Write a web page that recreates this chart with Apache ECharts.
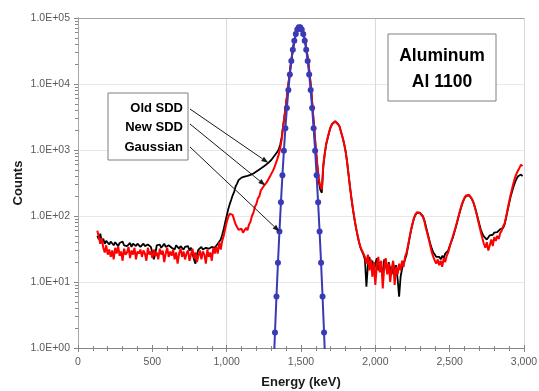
<!DOCTYPE html>
<html>
<head>
<meta charset="utf-8">
<script src="https://cdn.jsdelivr.net/npm/echarts@6/dist/echarts.min.js"></script>
<style>
  html, body { margin: 0; padding: 0; background: #ffffff; }
  #chart { width: 539px; height: 391px; }
</style>
</head>
<body>
<div id="chart"></div>
<script>
// Spectrum channels are 10 keV wide; the first one sits at 130 keV
const channelStart = 130;
const channelWidth = 10;

// Old SDD counts per channel
const oldSdd = [
  50, 44, 54, 41, 45, 38, 42, 40, 37, 41,
  39, 36, 40, 38, 35, 39, 37, 41, 36, 38,
  35, 37, 39, 34, 38, 36, 35, 38, 37, 34,
  36, 38, 35, 33, 37, 36, 34, 28, 22, 27,
  36, 34, 37, 33, 35, 38, 34, 32, 36, 35,
  33, 35, 31, 36, 34, 32, 35, 33, 31, 34,
  32, 35, 30, 33, 27, 22, 19, 26, 31, 33,
  34, 31, 29, 33, 35, 32, 30, 34, 36, 33,
  35, 38, 40, 44, 52, 63, 80, 100, 125, 150,
  175, 205, 230, 280, 310, 350, 360, 382, 378, 395,
  390, 405, 398, 420, 418, 440, 448, 472, 480, 505,
  515, 545, 550, 585, 598, 640, 660, 705, 740, 810,
  860, 930, 1020, 1200, 1550, 2300, 3400, 5100, 7900, 12300,
  18800, 27500, 38500, 50000, 61000, 68500, 72000, 70500, 64000, 54000,
  42000, 30500, 20500, 13000, 7400, 3800, 1900, 1000, 560, 330,
  250, 225, 560, 880, 1230, 1530, 1880, 2230, 2480, 2640,
  2700, 2620, 2450, 2240, 1850, 1540, 1240, 950, 660, 420,
  270, 178, 124, 88, 66, 51, 40, 33, 29, 26,
  22, 8.5, 18, 24, 16, 21, 14, 19, 23, 15,
  20, 17, 12, 22, 18, 14, 20, 16, 13, 19,
  15, 18, 11, 6, 12, 16, 19, 22, 26, 34,
  46, 60, 75, 92, 104, 112, 115, 112, 107, 100,
  86, 70, 57, 46, 38, 32, 28, 26, 24, 23,
  24, 22, 25, 23, 27, 26, 30, 35, 40, 46,
  55, 66, 80, 98, 118, 142, 165, 185, 200, 210,
  206, 196, 180, 160, 136, 112, 92, 75, 62, 54,
  49, 46, 44, 47, 51, 54, 52, 56, 58, 57,
  61, 63, 62, 66, 75, 95, 122, 155, 195, 235,
  280, 325, 365, 400, 420, 425, 400
];

// New SDD counts per channel
const newSdd = [
  60, 48, 38, 46, 33, 28, 36, 26, 31, 24,
  30, 22, 33, 27, 35, 25, 29, 21, 32, 26,
  28, 34, 23, 30, 26, 33, 22, 29, 27, 31,
  24, 30, 27, 21, 33, 26, 29, 23, 31, 25,
  28, 22, 32, 26, 30, 20, 27, 33, 24, 29,
  25, 31, 22, 28, 19, 27, 32, 24, 29, 22,
  27, 30, 21, 26, 32, 23, 28, 20, 25, 30,
  22, 29, 26, 19, 31, 24, 28, 21, 33, 27,
  34, 27, 40, 31, 42, 50, 64, 80, 96, 108,
  112, 104, 88, 75, 68, 62, 58, 64, 56, 60,
  66, 61, 74, 82, 100, 112, 138, 152, 185, 200,
  245, 255, 285, 290, 325, 345, 392, 415, 478, 535,
  620, 720, 850, 1050, 1450, 2300, 3400, 5100, 7900, 12300,
  18800, 27500, 38500, 50000, 61000, 68500, 72000, 70500, 64000, 54000,
  42000, 30500, 20500, 13000, 7400, 3800, 1950, 1050, 600, 360,
  285, 250, 600, 900, 1250, 1550, 1900, 2250, 2500, 2650,
  2720, 2640, 2460, 2250, 1860, 1550, 1250, 960, 660, 425,
  272, 180, 125, 90, 67, 52, 41, 34, 30, 27,
  24, 19, 26, 15, 22, 12, 20, 9, 18, 24,
  14, 21, 8, 17, 23, 13, 19, 10, 16, 21,
  9, 17, 13, 19, 15, 21, 17, 24, 28, 36,
  47, 62, 77, 94, 106, 114, 116, 110, 104, 97,
  83, 66, 54, 44, 35, 28, 24, 21, 19, 22,
  18, 21, 17, 23, 20, 25, 28, 34, 41, 48,
  57, 68, 82, 100, 122, 146, 168, 190, 205, 215,
  210, 198, 182, 160, 134, 110, 88, 70, 56, 46,
  38, 33, 40, 30, 36, 44, 35, 48, 42, 50,
  45, 55, 60, 70, 78, 98, 128, 165, 210, 260,
  320, 385, 440, 490, 540, 600, 570
];

// Gaussian reference peak (energy in keV, counts)
const gaussEnergy = [
  1315, 1325, 1335, 1345, 1355, 1365, 1375, 1385, 1395, 1405, 1415, 1425,
  1435, 1445, 1455, 1465, 1475, 1485, 1495, 1505, 1515, 1525, 1535, 1545,
  1555, 1565, 1575, 1585, 1595, 1605, 1615, 1625, 1635, 1645, 1655, 1665
];
const gaussCounts = [
  0.455, 1.72, 6.02, 19.5, 58.3, 161, 413, 977, 2140, 4320, 8090, 13990,
  22370, 33100, 45260, 57250, 66950, 72400, 72400, 66950, 57250, 45260, 33100, 22370,
  13990, 8090, 4320, 2140, 977, 413, 161, 58.3, 19.5, 6.02, 1.72, 0.455
];

const xTickLabels = ['0', '500', '1,000', '1,500', '2,000', '2,500', '3,000'];
const yTickLabels = ['1.0E+00', '1.0E+01', '1.0E+02', '1.0E+03', '1.0E+04', '1.0E+05'];
const legendLabels = ['Old SDD', 'New SDD', 'Gaussian'];
const titleLines = ['Aluminum', 'Al 1100'];
const yAxisTitle = 'Counts';

const energies = oldSdd.map((_, i) => channelStart + i * channelWidth);
const spectrum = (counts) => counts.map((c, i) => [energies[i], c]);

// minor ticks at 2..9 of every decade, expressed as log10 positions
const minorLogTicks = [];
for (let d = 0; d < 5; d++) {
  for (let m = 2; m <= 9; m++) minorLogTicks.push(d + Math.log10(m));
}

const axisGray = '#868686';
const borderGray = '#a6a6a6';
const font = 'Liberation Sans';
const tickLabel = { color: '#595959', fontSize: 10.5, fontFamily: font };
const axisTitle = { color: '#1a1a1a', fontSize: 13, fontWeight: 'bold', fontFamily: font };
const blue = '#3a3ab6';

const chart = echarts.init(document.getElementById('chart'), null, { renderer: 'canvas' });

chart.setOption({
  animation: false,
  backgroundColor: '#ffffff',
  grid: { left: 78, right: 15, top: 18, bottom: 43, containLabel: false, outerBoundsMode: 'none' },
  xAxis: [
    {
      type: 'value', min: 0, max: 3000, interval: 500, position: 'bottom',
      axisLine: { show: true, lineStyle: { color: axisGray, width: 1 } },
      axisTick: { show: true, length: 4, lineStyle: { color: axisGray } },
      minorTick: { show: true, splitNumber: 5, length: 3, lineStyle: { color: axisGray } },
      axisLabel: Object.assign({ margin: 9, formatter: (v) => xTickLabels[Math.round(v / 500)] }, tickLabel),
      splitLine: { show: false },
      name: 'Energy (keV)', nameLocation: 'middle', nameGap: 28, nameTextStyle: axisTitle
    },
    {
      type: 'value', min: 0, max: 3000, interval: 500, position: 'bottom',
      axisLine: { show: false },
      axisTick: { show: true, inside: true, length: 3, lineStyle: { color: axisGray } },
      minorTick: { show: true, splitNumber: 5, length: 2, lineStyle: { color: axisGray } },
      axisLabel: { show: false },
      splitLine: { show: false }
    },
    {
      type: 'value', min: 0, max: 3000, interval: 1000, position: 'top',
      axisLine: { show: true, lineStyle: { color: borderGray } },
      axisTick: { show: false },
      axisLabel: { show: false },
      splitLine: { show: true, lineStyle: { color: '#dadada', width: 1 } }
    }
  ],
  yAxis: [
    {
      type: 'log', logBase: 10, min: 1, max: 100000, position: 'left',
      axisLine: { show: true, lineStyle: { color: axisGray, width: 1 } },
      axisTick: { show: true, length: 4, lineStyle: { color: axisGray } },
      axisLabel: Object.assign({ margin: 8, formatter: (v) => yTickLabels[Math.round(Math.log10(v))] }, tickLabel),
      splitLine: { show: true, lineStyle: { color: '#e8e8e8', width: 1 } }
    },
    {
      type: 'value', min: 0, max: 5, position: 'left',
      axisLine: { show: false },
      axisTick: { show: true, length: 3, customValues: minorLogTicks, lineStyle: { color: axisGray } },
      axisLabel: { show: false },
      splitLine: { show: false }
    },
    {
      type: 'log', logBase: 10, min: 1, max: 100000, position: 'right',
      axisLine: { show: true, lineStyle: { color: borderGray } },
      axisTick: { show: false },
      axisLabel: { show: false },
      splitLine: { show: false }
    }
  ],
  series: [
    {
      name: legendLabels[0], type: 'line', xAxisIndex: 0, yAxisIndex: 0,
      data: spectrum(oldSdd), symbol: 'none', clip: true, z: 2,
      lineStyle: { color: '#000000', width: 1.8 }
    },
    {
      name: legendLabels[1], type: 'line', xAxisIndex: 0, yAxisIndex: 0,
      data: spectrum(newSdd), symbol: 'none', clip: true, z: 3,
      lineStyle: { color: '#ff0000', width: 2 }
    },
    {
      name: legendLabels[2], type: 'line', xAxisIndex: 0, yAxisIndex: 0,
      data: gaussEnergy.map((e, i) => [e, gaussCounts[i]]),
      symbol: 'circle', symbolSize: (v) => (v[1] < 1 ? 0 : 6), clip: true, z: 4,
      itemStyle: { color: blue },
      lineStyle: { color: blue, width: 2 }
    }
  ]
});

// Annotation boxes, leader arrows and the vertical axis title
const toPx = (x, y) => chart.convertToPixel({ xAxisIndex: 0, yAxisIndex: 0 }, [x, y]);
const idx = (e) => Math.round((e - channelStart) / channelWidth);
const arrowTargets = [
  toPx(1280, oldSdd[idx(1280)]),
  toPx(1260, newSdd[idx(1260)]),
  toPx(gaussEnergy[4], gaussCounts[4])
];
const arrowStarts = [[190, 109], [190, 124], [190, 147]];

function arrow(from, to) {
  const dx = to[0] - from[0], dy = to[1] - from[1];
  const len = Math.hypot(dx, dy);
  const ux = dx / len, uy = dy / len;
  const head = 7, half = 2.6;
  const bx = to[0] - ux * head, by = to[1] - uy * head;
  return [
    { type: 'line', shape: { x1: from[0], y1: from[1], x2: bx, y2: by },
      style: { stroke: '#1a1a1a', lineWidth: 1 }, z: 10 },
    { type: 'polygon', shape: { points: [
        [to[0], to[1]], [bx - uy * half, by + ux * half], [bx + uy * half, by - ux * half]
      ] }, style: { fill: '#1a1a1a' }, z: 10 }
  ];
}

const boxText = { fill: '#000000', fontFamily: font, fontWeight: 'bold' };
const graphics = [
  { type: 'rect', shape: { x: 108, y: 93, width: 80, height: 67 },
    style: { fill: '#ffffff', stroke: '#7f7f7f', lineWidth: 1 }, z: 9 },
  { type: 'rect', shape: { x: 388, y: 34, width: 108, height: 67 },
    style: { fill: '#ffffff', stroke: '#7f7f7f', lineWidth: 1 }, z: 9 },
  { type: 'text', x: 18, y: 183, rotation: Math.PI / 2, z: 11,
    style: { text: yAxisTitle, fill: axisTitle.color, fontSize: axisTitle.fontSize, fontWeight: 'bold',
      fontFamily: font, align: 'center', verticalAlign: 'middle' } }
];
[108, 127.5, 147].forEach((y, i) => {
  graphics.push({ type: 'text', x: 183, y: y, z: 11,
    style: Object.assign({ text: legendLabels[i], fontSize: 13, align: 'right', verticalAlign: 'middle' }, boxText) });
});
[56, 82].forEach((y, i) => {
  graphics.push({ type: 'text', x: 442, y: y, z: 11,
    style: Object.assign({ text: titleLines[i], fontSize: 17.5, align: 'center', verticalAlign: 'middle' }, boxText) });
});
arrowStarts.forEach((s, i) => { graphics.push(...arrow(s, arrowTargets[i])); });

chart.setOption({ graphic: graphics });
</script>
</body>
</html>
